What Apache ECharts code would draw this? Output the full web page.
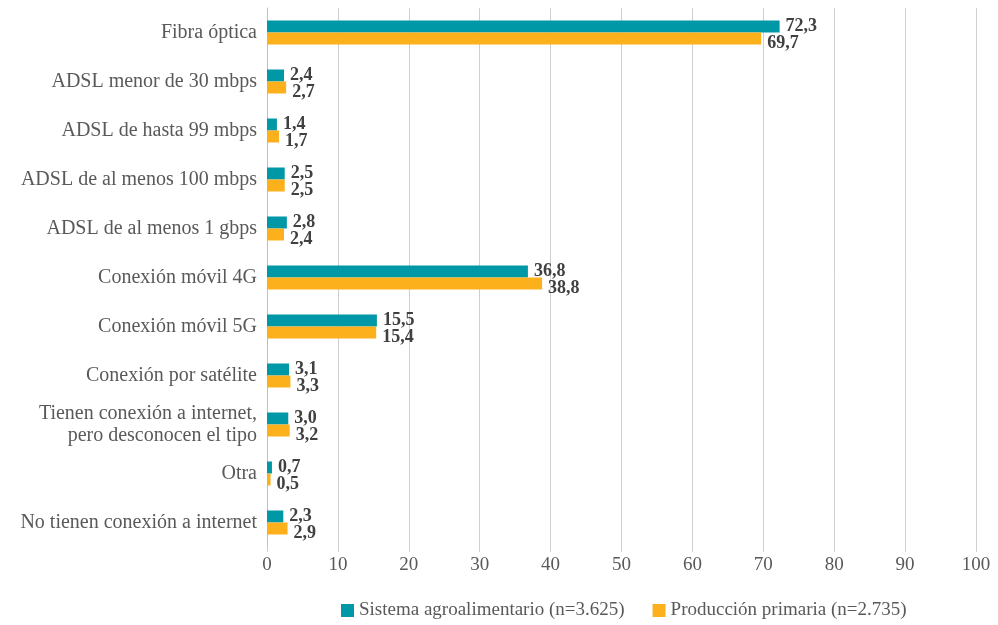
<!DOCTYPE html>
<html>
<head>
<meta charset="utf-8">
<script src="https://cdn.jsdelivr.net/npm/echarts@6/dist/echarts.min.js"></script>
<style>
    html, body { margin: 0; padding: 0; background: #fff; }
    #chart { width: 998px; height: 625px; }
</style>
</head>
<body>
<div id="chart"></div>
<script>
let categories = [
    'Fibra óptica',
    'ADSL menor de 30 mbps',
    'ADSL de hasta 99 mbps',
    'ADSL de al menos 100 mbps',
    'ADSL de al menos 1 gbps',
    'Conexión móvil 4G',
    'Conexión móvil 5G',
    'Conexión por satélite',
    'Tienen conexión a internet,\npero desconocen el tipo',
    'Otra',
    'No tienen conexión a internet'
];
let sistemaValues = [72.3, 2.4, 1.4, 2.5, 2.8, 36.8, 15.5, 3.1, 3.0, 0.7, 2.3];
let primariaValues = [69.7, 2.7, 1.7, 2.5, 2.4, 38.8, 15.4, 3.3, 3.2, 0.5, 2.9];
let seriesNames = ['Sistema agroalimentario (n=3.625)', 'Producción primaria (n=2.735)'];

const FONT = '"Liberation Serif", "DejaVu Serif", serif';

let fmt = (p) => p.value.toFixed(1).replace('.', ',');

let makeLabel = (offsetY) => ({
    show: true,
    position: 'right',
    distance: 6,
    offset: [0, offsetY],
    formatter: fmt,
    fontFamily: FONT,
    fontSize: 18,
    fontWeight: 'bold',
    color: '#404040'
});

let chart = echarts.init(document.getElementById('chart'));

chart.setOption({
    animation: false,
    grid: {
        left: 267,
        right: 22,
        top: 8,
        bottom: 78
    },
    legend: {
        bottom: 0,
        left: 336,
        itemWidth: 13,
        itemHeight: 13,
        itemGap: 28,
        icon: 'rect',
        textStyle: {
            fontFamily: FONT,
            fontSize: 19,
            color: '#595959'
        },
        data: seriesNames
    },
    xAxis: {
        type: 'value',
        min: 0,
        max: 100,
        interval: 10,
        axisLine: { show: false },
        axisTick: {
            show: true,
            length: 5,
            lineStyle: { color: '#d0d0d0' }
        },
        splitLine: {
            show: true,
            lineStyle: { color: '#d0d0d0', width: 1 }
        },
        axisLabel: {
            fontFamily: FONT,
            fontSize: 19,
            color: '#595959',
            margin: 9
        }
    },
    yAxis: {
        type: 'category',
        inverse: true,
        data: categories,
        axisLine: {
            show: true,
            lineStyle: { color: '#bfbfbf', width: 1 }
        },
        axisTick: { show: false },
        axisLabel: {
            fontFamily: FONT,
            fontSize: 20,
            color: '#595959',
            margin: 10,
            lineHeight: 22,
            align: 'right'
        }
    },
    series: [
        {
            name: seriesNames[0],
            type: 'bar',
            data: sistemaValues,
            barWidth: 12,
            barGap: '0%',
            itemStyle: { color: '#0097a7' },
            label: makeLabel(0)
        },
        {
            name: seriesNames[1],
            type: 'bar',
            data: primariaValues,
            barWidth: 12,
            barGap: '0%',
            itemStyle: { color: '#fbb01c' },
            label: makeLabel(5)
        }
    ]
});
</script>
</body>
</html>
